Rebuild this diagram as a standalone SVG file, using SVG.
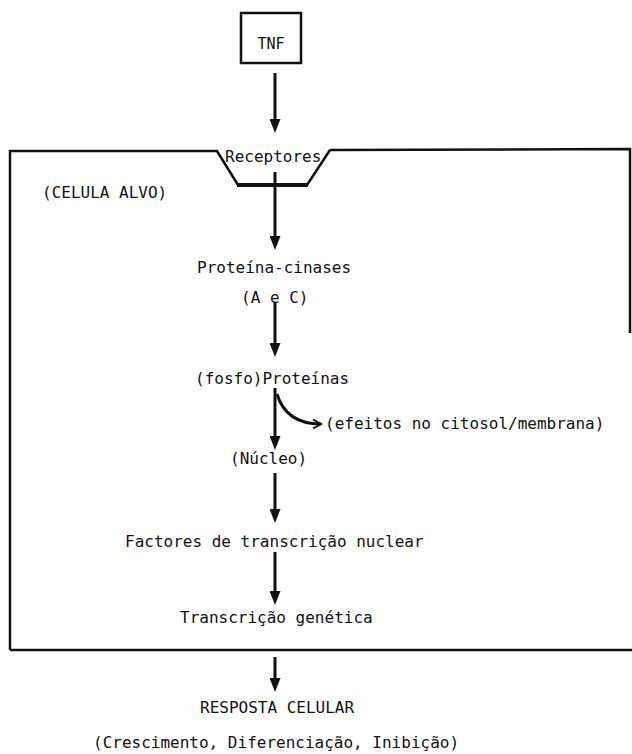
<svg xmlns="http://www.w3.org/2000/svg" width="632" height="754" viewBox="0 0 632 754">
<style>
text{font-family:"DejaVu Sans Mono","Liberation Mono",monospace;font-size:16px;fill:#111}
.ln{stroke:#111;stroke-width:3;fill:none}
.mem{stroke:#111;stroke-width:2.5;fill:none;stroke-linejoin:miter}
</style>
<defs>
<marker id="ah" markerUnits="userSpaceOnUse" markerWidth="14" markerHeight="11" viewBox="0 0 14 11" refX="4" refY="5.5" orient="auto">
<path d="M0,0 L14,5.5 L0,11 Z" fill="#111"/>
</marker>
<marker id="oh" markerUnits="userSpaceOnUse" markerWidth="12" markerHeight="12" viewBox="0 0 12 12" refX="9" refY="6" orient="auto">
<path d="M1,1.5 L9,6 L1,10.5" fill="none" stroke="#111" stroke-width="2"/>
</marker>
</defs>
<g id="membrane">
<path class="mem" d="M10 650 L10 151 L217 151 L238 185 M330 150 L630 149 L630 333"/>
<path class="mem" d="M307 185 L330 150"/>
<path stroke="#111" stroke-width="4" fill="none" d="M237 185 L308 185"/>
<path class="mem" d="M10 650 L632 650"/>
</g>
<g id="tnf">
<rect x="241" y="13" width="60" height="50" fill="none" stroke="#111" stroke-width="2.5"/>
<text x="271" y="49" text-anchor="middle" style="font-size:15px">TNF</text>
</g>
<g id="receptores"><text x="225" y="162">Receptores</text></g>
<g id="celula"><text x="42" y="198">(CELULA ALVO)</text></g>
<g id="cinases"><text x="197" y="273">Proteína-cinases</text><text x="241" y="303">(A e C)</text></g>
<g id="fosfo"><text x="195" y="384">(fosfo)Proteínas</text></g>
<g id="efeitos"><text x="325" y="429">(efeitos no citosol/membrana)</text></g>
<g id="nucleo"><text x="230" y="464">(Núcleo)</text></g>
<g id="factores"><text x="125" y="547">Factores de transcrição nuclear</text></g>
<g id="transcricao"><text x="180" y="623">Transcrição genética</text></g>
<g id="resposta"><text x="200" y="713">RESPOSTA CELULAR</text></g>
<g id="efeitos-finais"><text x="93" y="748">(Crescimento, Diferenciação, Inibição)</text></g>
<g id="connectors">
<line class="ln" x1="275" y1="73" x2="275" y2="123" marker-end="url(#ah)"/>
<line class="ln" x1="275" y1="172" x2="275" y2="240" marker-end="url(#ah)"/>
<line class="ln" x1="275" y1="302" x2="275" y2="347" marker-end="url(#ah)"/>
<line class="ln" x1="275" y1="388" x2="275" y2="440" marker-end="url(#ah)"/>
<path class="ln" stroke-width="2" d="M277 394 C283 414 298 424 321 424" marker-end="url(#oh)"/>
<line class="ln" x1="275" y1="473" x2="275" y2="513" marker-end="url(#ah)"/>
<line class="ln" x1="275" y1="552" x2="275" y2="595" marker-end="url(#ah)"/>
<line class="ln" x1="275" y1="657" x2="275" y2="682" marker-end="url(#ah)"/>
</g>
</svg>
